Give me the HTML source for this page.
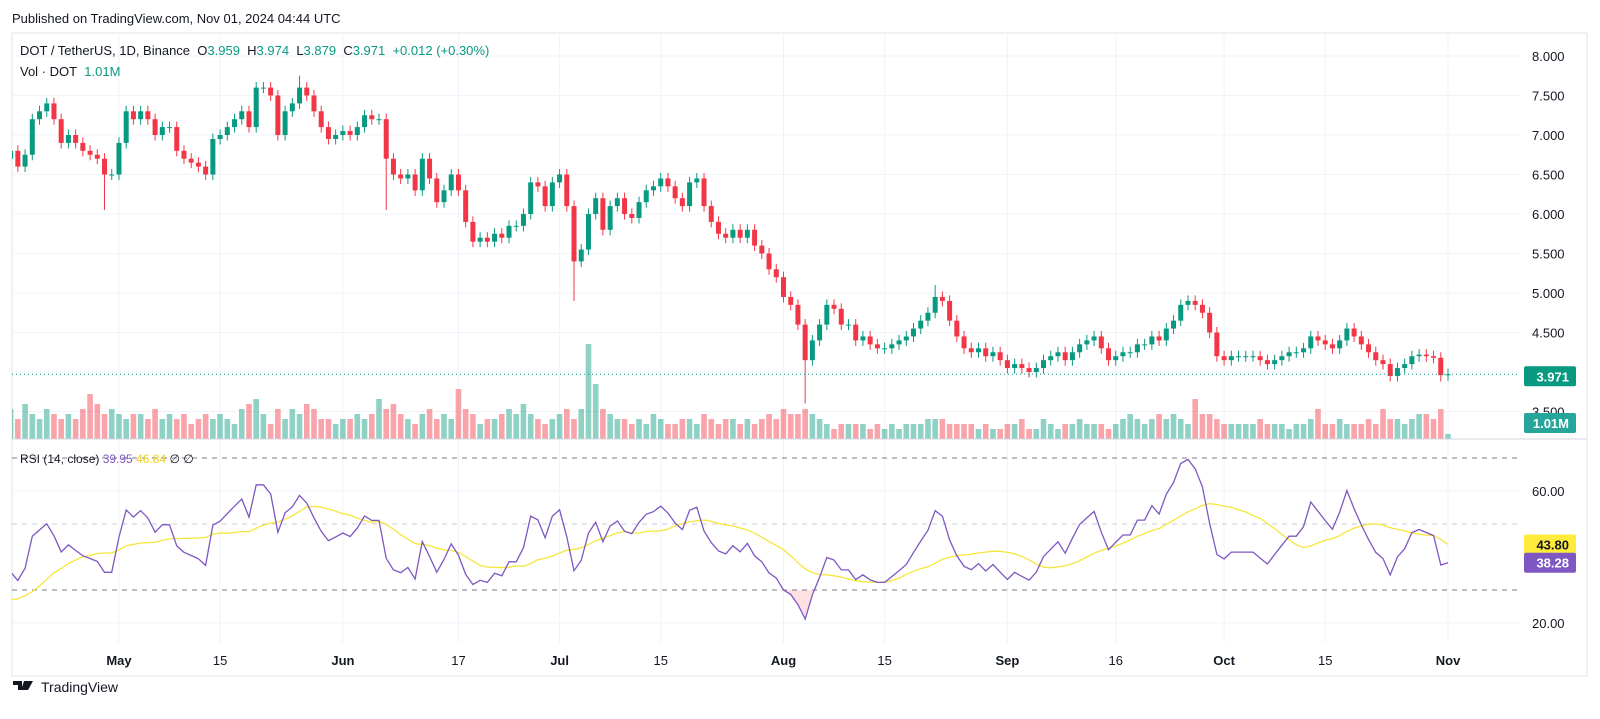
<!DOCTYPE html>
<html><head><meta charset="utf-8"><style>
html,body{margin:0;padding:0;background:#fff;}
svg{display:block;font-family:"Liberation Sans",sans-serif;}
</style></head><body>
<svg id="chart" width="1600" height="719" viewBox="0 0 1600 719" xmlns="http://www.w3.org/2000/svg">
<text x="12" y="23" font-size="13" fill="#131722">Published on TradingView.com, Nov 01, 2024 04:44 UTC</text>
<rect x="12" y="33" width="1575" height="643" fill="none" stroke="#e0e3eb"/>
<g id="grid"></g>
<g id="vol"></g>
<g id="candles"></g>
<g id="rsi"></g>
<g id="axes"></g>
<line x1="12" y1="439" x2="1587" y2="439" stroke="#d1d4dc"/>
<text x="20" y="55" font-size="13"><tspan fill="#131722">DOT / TetherUS, 1D, Binance&#160;&#160;O</tspan><tspan fill="#089981">3.959&#160;&#160;</tspan><tspan fill="#131722">H</tspan><tspan fill="#089981">3.974&#160;&#160;</tspan><tspan fill="#131722">L</tspan><tspan fill="#089981">3.879&#160;&#160;</tspan><tspan fill="#131722">C</tspan><tspan fill="#089981">3.971&#160;&#160;+0.012 (+0.30%)</tspan></text>
<text x="20" y="76" font-size="13"><tspan fill="#131722">Vol · DOT&#160;&#160;</tspan><tspan fill="#089981">1.01M</tspan></text>
<text x="20" y="463" font-size="12"><tspan fill="#131722">RSI (14, close)&#160;</tspan><tspan fill="#7e57c2">39.95</tspan><tspan fill="#f2d21b">&#160;46.84</tspan><tspan fill="#131722">&#160;∅&#160;∅</tspan></text>
<g>
<path d="M13 681h9v9h-4v-5h-5z M24 681h4l-3 9h-4z M28 681h5l-5 9h-3z" fill="#131722"/>
<text x="41" y="692" font-size="14" fill="#131722">TradingView</text>
</g>
</svg>
<script>
const preCloses=[8.9,8.8,8.95,8.7,8.6,8.75,8.5,8.55,8.3,8.4,8.2,8.25,8.0,8.1,7.9,7.7,7.8,7.5,7.6,7.3,7.0,6.6,6.8,6.5,6.7,6.6,6.9,6.6];
const closes=[6.7,6.8,6.6,6.75,7.2,7.3,7.4,7.2,6.9,7.0,6.9,6.8,6.75,6.7,6.5,6.5,6.9,7.3,7.2,7.3,7.2,7.0,7.1,7.1,6.8,6.7,6.65,6.6,6.5,6.95,7.0,7.1,7.2,7.3,7.1,7.6,7.6,7.5,7.0,7.3,7.4,7.6,7.5,7.3,7.1,6.95,7.0,7.05,7.0,7.1,7.25,7.2,7.2,6.7,6.5,6.45,6.5,6.3,6.7,6.45,6.15,6.3,6.5,6.3,5.9,5.65,5.7,5.65,5.75,5.7,5.85,5.85,6.0,6.4,6.35,6.1,6.4,6.5,6.1,5.4,5.55,6.0,6.2,5.8,6.1,6.2,6.0,5.95,6.15,6.3,6.35,6.45,6.35,6.2,6.1,6.4,6.45,6.1,5.9,5.75,5.7,5.8,5.7,5.8,5.6,5.5,5.3,5.2,4.95,4.85,4.6,4.15,4.4,4.6,4.85,4.8,4.6,4.6,4.4,4.45,4.35,4.3,4.3,4.35,4.4,4.45,4.55,4.65,4.75,4.95,4.9,4.65,4.45,4.3,4.25,4.3,4.2,4.25,4.15,4.05,4.1,4.05,4.0,4.05,4.15,4.2,4.25,4.15,4.25,4.35,4.4,4.45,4.3,4.15,4.2,4.25,4.25,4.35,4.35,4.45,4.4,4.55,4.65,4.85,4.9,4.85,4.75,4.5,4.2,4.15,4.2,4.2,4.2,4.2,4.15,4.1,4.15,4.2,4.25,4.25,4.3,4.45,4.4,4.35,4.3,4.4,4.55,4.45,4.35,4.25,4.15,4.1,3.95,4.05,4.1,4.2,4.22,4.2,4.18,3.959,3.971];
const volumes=[5,6,4,7,5,4,6,5,4,5,4,6,9,7,5,
6,5,4,5,5,4,6,4,5,4,5,3,4,5,4,
5,4,3,6,7,8,5,3,6,4,6,5,7,6,4,
4,3,4,4,5,4,5,8,6,7,5,4,3,5,6,
4,5,4,10,6,5,3,4,4,5,6,5,7,5,4,
3,4,5,6,4,6,19,11,6,5,4,4,3,4,3,
5,4,3,3,4,4,3,5,4,3,4,4,3,4,3,
4,5,4,6,5,5,6,5,4,3,2,3,3,3,3,
2,3,2,3,2,3,3,3,4,4,4,3,3,3,3,
2,3,2,2,3,3,4,2,2,4,3,2,3,3,4,
3,3,3,2,3,4,5,4,3,4,5,4,5,4,3,
8,5,5,4,3,3,3,3,3,4,3,3,3,2,3,
3,4,6,3,3,4,3,3,3,4,3,6,4,4,3,
4,5,5,4,6,1.01];
const lowOverrides={14:6.05,53:6.05,79:4.9,111:3.6,193:3.88,199:3.879};
const highOverrides={41:7.75,129:5.1};
const priceTicks=[8.0,7.5,7.0,6.5,6.0,5.5,5.0,4.5,4.0,3.5];
const rsiTicks=[60,20];
const dateLabels=["May","15","Jun","17","Jul","15","Aug","15","Sep","16","Oct","15","Nov"];
const dateOffsets=[0,14,31,47,61,75,92,106,123,138,153,167,184]; // days from May 1

const NS="http://www.w3.org/2000/svg";
const N=closes.length;
const DAY=7.223, XMAY=119;
const xIdx=i=>1448-(N-1-i)*DAY;
const xDay=d=>XMAY+d*DAY;
const py=p=>56+(8-p)*79;
const ry=v=>623-(v-20)*3.3;
const vy=v=>439-v*5;
const L=1520;
function mk(tag,attrs,parent){const e=document.createElementNS(NS,tag);for(const k in attrs)e.setAttribute(k,attrs[k]);parent.appendChild(e);return e;}
const grid=document.getElementById('grid'),axes=document.getElementById('axes');
priceTicks.forEach(p=>{
  const l=mk('line',{x1:12,x2:L,y1:py(p),y2:py(p),stroke:'#f0f3fa'},grid);
  
  
  const t=mk('text',{x:1532,y:py(p)+5,'font-size':13,fill:'#131722'},axes);
  t.textContent=p.toFixed(3);
  
  
});
rsiTicks.forEach(v=>{
  const l=mk('line',{x1:12,x2:L,y1:ry(v),y2:ry(v),stroke:'#f0f3fa'},grid);
  
  
  const t=mk('text',{x:1532,y:ry(v)+5,'font-size':13,fill:'#131722'},axes);
  t.textContent=v.toFixed(2);
  
  
});
dateLabels.forEach((lab,k)=>{
  const x=xDay(dateOffsets[k]);
  const l=mk('line',{x1:x,x2:x,y1:33,y2:643,stroke:'#f0f3fa'},grid);
  
  
  const bold=isNaN(+lab);
  const t=mk('text',{x:x,y:665,'font-size':13,'text-anchor':'middle',fill:'#131722','font-weight':bold?'bold':'normal'},axes);
  t.textContent=lab;
  
  
});
const cg=document.getElementById('candles'),vg=document.getElementById('vol');
const defs=mk('defs',{},document.getElementById('chart'));
const cp=mk('clipPath',{id:'clip'},defs);mk('rect',{x:12,y:33,width:L-12,height:640},cp);
cg.setAttribute('clip-path','url(#clip)');vg.setAttribute('clip-path','url(#clip)');
const G='#089981',R='#f23645';
for(let i=0;i<N;i++){
  const o=i?closes[i-1]:preCloses[preCloses.length-1],c=closes[i],up=c>=o,col=up?G:R,x=xIdx(i);
  const hi=highOverrides[i]!==undefined?highOverrides[i]:Math.max(o,c)+0.07;
  const lo=lowOverrides[i]!==undefined?lowOverrides[i]:Math.min(o,c)-0.07;
  const vb=mk('rect',{x:x-2.8,width:5.6,y:vy(volumes[i]),height:volumes[i]*5,fill:up?'rgba(8,153,129,0.45)':'rgba(242,54,69,0.45)'},vg);
  
  
  const w=mk('line',{x1:x,x2:x,y1:py(hi),y2:py(lo),stroke:col,'stroke-width':1},cg);
  
  
  const top=py(Math.max(o,c)),bh=Math.max(1,Math.abs(py(o)-py(c)));
  const b=mk('rect',{x:x-2.5,width:5,y:top,height:bh,fill:col},cg);
  
  
}
const cpl=mk('line',{x1:12,x2:L,y1:py(3.971),y2:py(3.971),stroke:G,'stroke-dasharray':'1 3'},axes);


function badge(y,txt,bg,fg,name){
  const g=mk('g',{},axes);
  
  
  mk('rect',{x:1524,y:y-10,width:52,height:20,rx:2,fill:bg},g);
  const t=mk('text',{x:1569,y:y+5,'font-size':13,'text-anchor':'end',fill:fg,'font-weight':'bold'},g);t.textContent=txt;
}
const rsiG=document.getElementById('rsi');
[[70,'#787b86'],[30,'#787b86'],[50,'#c9ccd4']].forEach(([v,c])=>{
  const l=mk('line',{x1:12,x2:L,y1:ry(v),y2:ry(v),stroke:c,'stroke-dasharray':'5 5'},rsiG);
  
  
});
// RSI over history + visible closes
const all=preCloses.concat(closes),P=preCloses.length,M=all.length;
const rsiAll=new Array(M).fill(null);
let ag=0,al=0;
for(let i=1;i<=14;i++){const d=all[i]-all[i-1];if(d>0)ag+=d;else al-=d;}
ag/=14;al/=14;rsiAll[14]=100-100/(1+ag/al);
for(let i=15;i<M;i++){const d=all[i]-all[i-1];ag=(ag*13+Math.max(d,0))/14;al=(al*13+Math.max(-d,0))/14;rsiAll[i]=al===0?100:100-100/(1+ag/al);}
const maAll=new Array(M).fill(null);
for(let i=27;i<M;i++){let s=0;for(let j=i-13;j<=i;j++)s+=rsiAll[j];maAll[i]=s/14;}
const rp=[],mp=[];
for(let i=0;i<N;i++){rp.push(xIdx(i).toFixed(1)+','+ry(rsiAll[i+P]).toFixed(1));mp.push(xIdx(i).toFixed(1)+','+ry(maAll[i+P]).toFixed(1));}
const clipO=mk('clipPath',{id:'os'},defs);mk('rect',{x:12,y:ry(30),width:L-12,height:80},clipO);
const fill=mk('polygon',{points:xIdx(0)+','+ry(30)+' '+rp.join(' ')+' '+xIdx(N-1)+','+ry(30),fill:'rgba(242,54,69,0.15)','clip-path':'url(#os)'},rsiG);


const rg=mk('g',{'clip-path':'url(#clip)'},rsiG);
const mal=mk('polyline',{points:mp.join(' '),fill:'none',stroke:'#f5e63b','stroke-width':1.3},rg);


const rl=mk('polyline',{points:rp.join(' '),fill:'none',stroke:'#7e57c2','stroke-width':1.3},rg);


badge(py(3.971)+2,'3.971',G,'#fff','last-price-badge');
badge(423,'1.01M','#26a69a','#fff','volume-badge');
badge(ry(maAll[M-1]),maAll[M-1].toFixed(2),'#ffeb3b','#131722','rsi-ma-badge');
badge(ry(rsiAll[M-1]),rsiAll[M-1].toFixed(2),'#7e57c2','#fff','rsi-badge');
</script>
</body></html>
